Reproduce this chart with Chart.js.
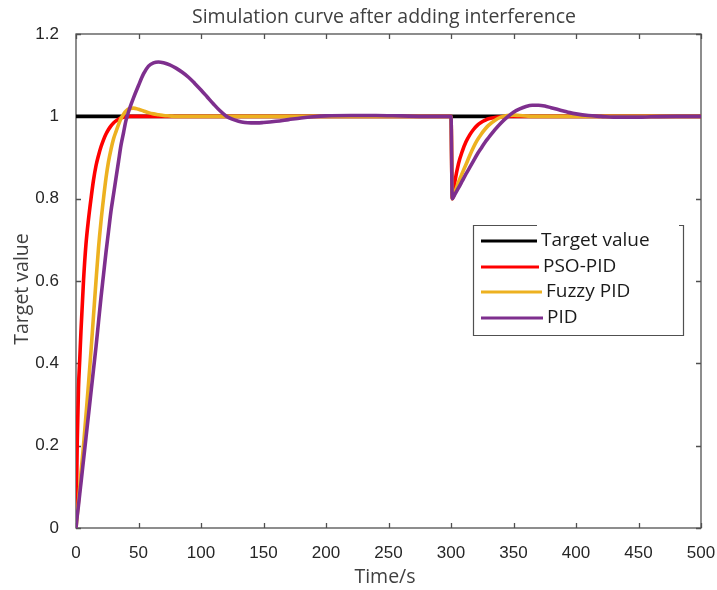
<!DOCTYPE html>
<html>
<head>
<meta charset="utf-8">
<script src="https://cdn.jsdelivr.net/npm/chart.js@4.4.1/dist/chart.umd.min.js"></script>
<style>
  html, body { margin: 0; padding: 0; background: #fff; }
</style>
</head>
<body>
<canvas id="simChart" width="717" height="590"></canvas>
<script>
// Simulation curve after adding interference (step at 0 s, disturbance at 300 s)

const timeRise = [0, 1, 2, 3, 4, 6, 8, 10, 12, 14, 16, 18, 20, 22, 24, 26, 28, 30, 32, 34,
  36, 38, 40, 43, 46, 50, 54, 58, 62, 66, 70, 75, 80, 85, 90, 95, 100, 105, 110, 115,
  120, 125, 130, 135, 140, 145, 150, 160, 170, 180, 190, 200, 220, 240, 260, 280, 300];
const timeDist = [301, 303, 306, 309, 312, 315, 318, 321, 324, 327, 330, 335, 340, 345, 350,
  355, 360, 365, 370, 375, 380, 385, 390, 395, 400, 410, 420, 430, 440, 450, 460, 480, 500];

const targetTime = [0, 500];
const targetValues = [1, 1];

const psoRise = [0, 0.21, 0.34, 0.41, 0.48, 0.6, 0.69, 0.75, 0.8, 0.845, 0.88, 0.905, 0.926, 0.943, 0.957, 0.968, 0.977, 0.984, 0.989, 0.993,
  0.996, 0.998, 0.999, 1, 1, 1, 1, 1, 1, 1, 1, 1, 1, 1, 1, 1, 1, 1, 1, 1,
  1, 1, 1, 1, 1, 1, 1, 1, 1, 1, 1, 1, 1, 1, 1, 1, 1];
const psoDist = [0.8, 0.84, 0.885, 0.915, 0.938, 0.955, 0.968, 0.978, 0.985, 0.99, 0.994, 0.997, 0.999, 1, 1,
  1, 1, 1, 1, 1, 1, 1, 1, 1, 1, 1, 1, 1, 1, 1, 1, 1, 1];

const fuzzyRise = [0, 0.03, 0.065, 0.1, 0.135, 0.2, 0.275, 0.35, 0.43, 0.515, 0.6, 0.68, 0.745, 0.8, 0.85, 0.89, 0.92, 0.945, 0.963, 0.98,
  0.995, 1.005, 1.013, 1.019, 1.02, 1.017, 1.013, 1.009, 1.006, 1.004, 1.002, 1.001, 1, 1, 1, 1, 1, 1, 1, 1,
  1, 1, 1, 1, 1, 1, 1, 1, 1, 1, 1, 1, 1, 1, 1, 1, 1];
const fuzzyDist = [0.8, 0.815, 0.84, 0.862, 0.883, 0.905, 0.925, 0.942, 0.956, 0.968, 0.978, 0.99, 0.998, 1.002, 1.003,
  1.002, 1.001, 1, 1, 1, 1, 1, 1, 1, 1, 1, 1, 1, 1, 1, 1, 1, 1];

const pidRise = [0, 0.03, 0.055, 0.083, 0.11, 0.165, 0.22, 0.275, 0.33, 0.385, 0.44, 0.5, 0.56, 0.615, 0.67, 0.72, 0.77, 0.81, 0.85, 0.89,
  0.93, 0.96, 0.99, 1.02, 1.045, 1.075, 1.103, 1.122, 1.13, 1.132, 1.13, 1.125, 1.117, 1.107, 1.095, 1.08, 1.064, 1.047, 1.03, 1.014,
  1.001, 0.993, 0.988, 0.985, 0.984, 0.984, 0.985, 0.988, 0.992, 0.996, 0.999, 1.001, 1.002, 1.002, 1.001, 1, 1];
const pidDist = [0.8, 0.81, 0.826, 0.843, 0.86, 0.876, 0.892, 0.908, 0.922, 0.936, 0.948, 0.967, 0.984, 0.998, 1.01,
  1.018, 1.024, 1.027, 1.027, 1.025, 1.021, 1.017, 1.013, 1.009, 1.006, 1.002, 1, 0.998, 0.998, 0.998, 0.999, 1, 1];

const labels = ['Target value', 'PSO-PID', 'Fuzzy PID', 'PID'];
const colors = ['#000000', '#ff0000', '#edb120', '#7e2f8e'];

const toPoints = (ts, vs) => ts.map((t, i) => ({ x: t, y: vs[i] }));
const timeAll = timeRise.concat(timeDist);

const series = [
  toPoints(targetTime, targetValues),
  toPoints(timeAll, psoRise.concat(psoDist)),
  toPoints(timeAll, fuzzyRise.concat(fuzzyDist)),
  toPoints(timeAll, pidRise.concat(pidDist))
];

const sansUI = '"Open Sans", "Noto Sans", sans-serif';
const tickFont = { family: '"Liberation Sans", Arial, sans-serif', size: 17 };

// box around the plot with inward ticks on all four sides
const frame = {
  id: 'frame',
  beforeDatasetsDraw(chart) {
    const { ctx, chartArea: a, scales: { x, y } } = chart;
    ctx.save();
    ctx.strokeStyle = '#505050';
    ctx.lineWidth = 1.3;
    ctx.strokeRect(a.left, a.top, a.right - a.left, a.bottom - a.top);
    ctx.beginPath();
    x.ticks.forEach(t => {
      const px = Math.round(x.getPixelForValue(t.value)) + 0.5;
      ctx.moveTo(px, a.bottom); ctx.lineTo(px, a.bottom - 5);
      ctx.moveTo(px, a.top); ctx.lineTo(px, a.top + 5);
    });
    y.ticks.forEach(t => {
      const py = Math.round(y.getPixelForValue(t.value)) + 0.5;
      ctx.moveTo(a.left, py); ctx.lineTo(a.left + 5, py);
      ctx.moveTo(a.right, py); ctx.lineTo(a.right - 5, py);
    });
    ctx.stroke();
    ctx.restore();
  }
};

// title, axis titles and the boxed legend
const texts = {
  id: 'texts',
  afterDraw(chart) {
    const { ctx } = chart;
    ctx.save();
    ctx.fillStyle = '#404040';
    ctx.textAlign = 'center';
    ctx.textBaseline = 'middle';
    ctx.font = '19.5px ' + sansUI;
    ctx.fillText('Simulation curve after adding interference', 384, 17);
    ctx.fillText('Time/s', 385, 577);
    ctx.save();
    ctx.translate(22, 289);
    ctx.rotate(-Math.PI / 2);
    ctx.fillText('Target value', 0, 0);
    ctx.restore();

    // legend
    const L = 473, T = 225, R = 683, B = 335;
    ctx.fillStyle = '#fff';
    ctx.fillRect(L, T, R - L, B - T);
    ctx.strokeStyle = '#505050';
    ctx.lineWidth = 1.2;
    ctx.beginPath();
    ctx.moveTo(537, T + 0.5); ctx.lineTo(L + 0.5, T + 0.5);
    ctx.lineTo(L + 0.5, B + 0.5); ctx.lineTo(R + 0.5, B + 0.5);
    ctx.lineTo(R + 0.5, T + 0.5); ctx.lineTo(679, T + 0.5);
    ctx.stroke();
    const rows = [241, 267, 292, 318];
    const lineEnd = [537, 539, 542, 543];
    ctx.textAlign = 'left';
    ctx.font = '19px ' + sansUI;
    chart.data.datasets.forEach((ds, i) => {
      ctx.strokeStyle = ds.borderColor;
      ctx.lineWidth = 3.2;
      ctx.beginPath();
      ctx.moveTo(481, rows[i]); ctx.lineTo(lineEnd[i], rows[i]);
      ctx.stroke();
      ctx.fillStyle = '#1a1a1a';
      ctx.fillText(ds.label, lineEnd[i] + 4, rows[i]);
    });
    ctx.restore();
  }
};

new Chart(document.getElementById('simChart'), {
  type: 'line',
  data: {
    datasets: series.map((pts, i) => ({
      label: labels[i],
      data: pts,
      borderColor: colors[i],
      backgroundColor: colors[i],
      borderWidth: 3.6,
      pointRadius: 0,
      cubicInterpolationMode: 'monotone',
      order: 4 - i,
      fill: false
    }))
  },
  options: {
    responsive: false,
    animation: false,
    layout: { padding: { top: 34, right: 16, left: 0, bottom: 0 } },
    plugins: {
      legend: { display: false },
      tooltip: { enabled: false }
    },
    scales: {
      x: {
        type: 'linear',
        min: 0,
        max: 500,
        grid: { display: false },
        border: { display: false },
        ticks: { stepSize: 50, maxRotation: 0, padding: 7, color: '#262626', font: tickFont },
        afterFit: s => { s.height = 62; s.paddingLeft = 0; s.paddingRight = 0; }
      },
      y: {
        min: 0,
        max: 1.2,
        grid: { display: false },
        border: { display: false },
        ticks: { stepSize: 0.2, padding: 9, color: '#262626', font: tickFont,
                 callback: v => String(Number(v.toFixed(1))) },
        afterFit: s => { s.width = 76; s.paddingTop = 0; s.paddingBottom = 0; }
      }
    }
  },
  plugins: [frame, texts]
});
</script>
</body>
</html>
